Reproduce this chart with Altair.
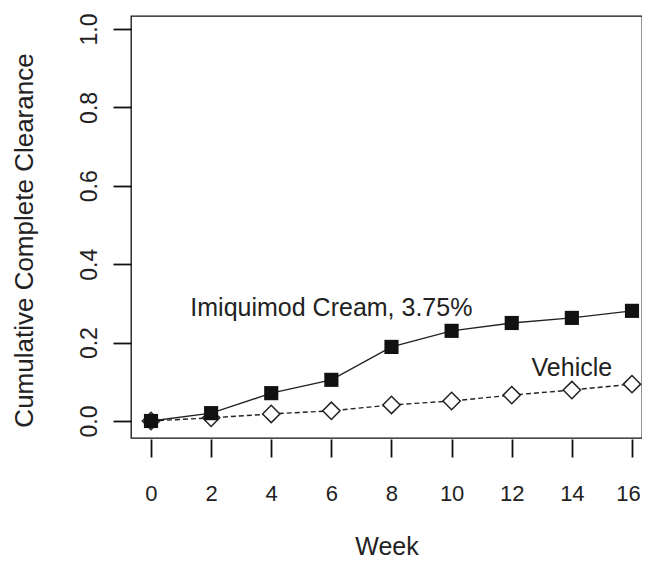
import altair as alt
import pandas as pd

# ---- data ----
weeks = [0, 2, 4, 6, 8, 10, 12, 14, 16]
imiquimod = [0.0, 0.020, 0.071, 0.105, 0.189, 0.230, 0.250, 0.263, 0.281]
vehicle = [0.0, 0.008, 0.018, 0.026, 0.041, 0.051, 0.066, 0.079, 0.094]
x_ticks = [0, 2, 4, 6, 8, 10, 12, 14, 16]
y_ticks = [0.0, 0.2, 0.4, 0.6, 0.8, 1.0]
label_text = ["Imiquimod Cream, 3.75%", "Vehicle"]
label_week = [6, 14]
label_value = [0.268, 0.115]

df_i = pd.DataFrame({"week": weeks, "value": imiquimod})
df_v = pd.DataFrame({"week": weeks, "value": vehicle})
df_l = pd.DataFrame({"week": label_week, "value": label_value, "text": label_text})

TXT = "#222222"
FONT = "Liberation Sans, Arial, sans-serif"

xscale = alt.Scale(domain=[-0.665, 16.333], nice=False, zero=False)
yscale = alt.Scale(domain=[-0.0434, 1.0332], nice=False, zero=False)

X = alt.X(
    "week:Q",
    scale=xscale,
    axis=alt.Axis(
        values=x_ticks, format="d", title="Week", grid=False, domain=False,
        offset=1, tickSize=18, tickWidth=1.8, tickColor="#111111",
        labelFont=FONT, labelFontSize=22, labelColor=TXT, labelPadding=26,
        labelFlush=False, labelOverlap=False,
        labelOffset={"condition": {"test": "datum.value == 16", "value": -4}, "value": 0},
        titleFont=FONT, titleFontSize=25, titleFontWeight="normal", titleColor=TXT,
        titleBaseline="alphabetic", titleY=115,
    ),
)
Y = alt.Y(
    "value:Q",
    scale=yscale,
    axis=alt.Axis(
        values=y_ticks, format=".1f", title="Cumulative Complete Clearance",
        grid=False, domain=False, offset=0, tickSize=18, tickWidth=1.8,
        tickColor="#111111",
        labelFont=FONT, labelFontSize=23, labelColor=TXT, labelPadding=17,
        labelAngle=270, labelAlign="center", labelBaseline="alphabetic",
        labelFlush=False, labelOverlap=False,
        titleFont=FONT, titleFontSize=26, titleFontWeight="normal", titleColor=TXT,
        titleAngle=270, titleAlign="center", titleBaseline="alphabetic",
        titleX=-99, titleY=224,
    ),
)

veh_line = alt.Chart(df_v).mark_line(
    color=TXT, strokeWidth=1.4, strokeDash=[5, 3]
).encode(x=X, y=Y)
veh_pts = alt.Chart(df_v).mark_point(
    shape="diamond", filled=True, fill="white", stroke=TXT,
    strokeWidth=1.5, size=300, opacity=1
).encode(x=X, y=Y)
imi_line = alt.Chart(df_i).mark_line(color=TXT, strokeWidth=1.4).encode(x=X, y=Y)
imi_pts = alt.Chart(df_i).mark_point(
    shape="square", filled=True, color="#111111", size=200, opacity=1
).encode(x=X, y=Y)
labels = alt.Chart(df_l).mark_text(
    font=FONT, fontSize=25, color=TXT, align="center", baseline="alphabetic"
).encode(x=X, y=Y, text="text:N")

chart = (
    alt.layer(veh_line, veh_pts, imi_line, imi_pts, labels)
    .properties(
        width=511, height=422,
        autosize=alt.AutoSizeParams(type="none"),
        padding={"left": 123, "top": 8, "right": 0, "bottom": 122},
        background="white",
    )
    .configure_view(stroke="#111111", strokeWidth=1.3)
)

chart.save("out.html", embed_options={"renderer": "svg", "actions": False})
